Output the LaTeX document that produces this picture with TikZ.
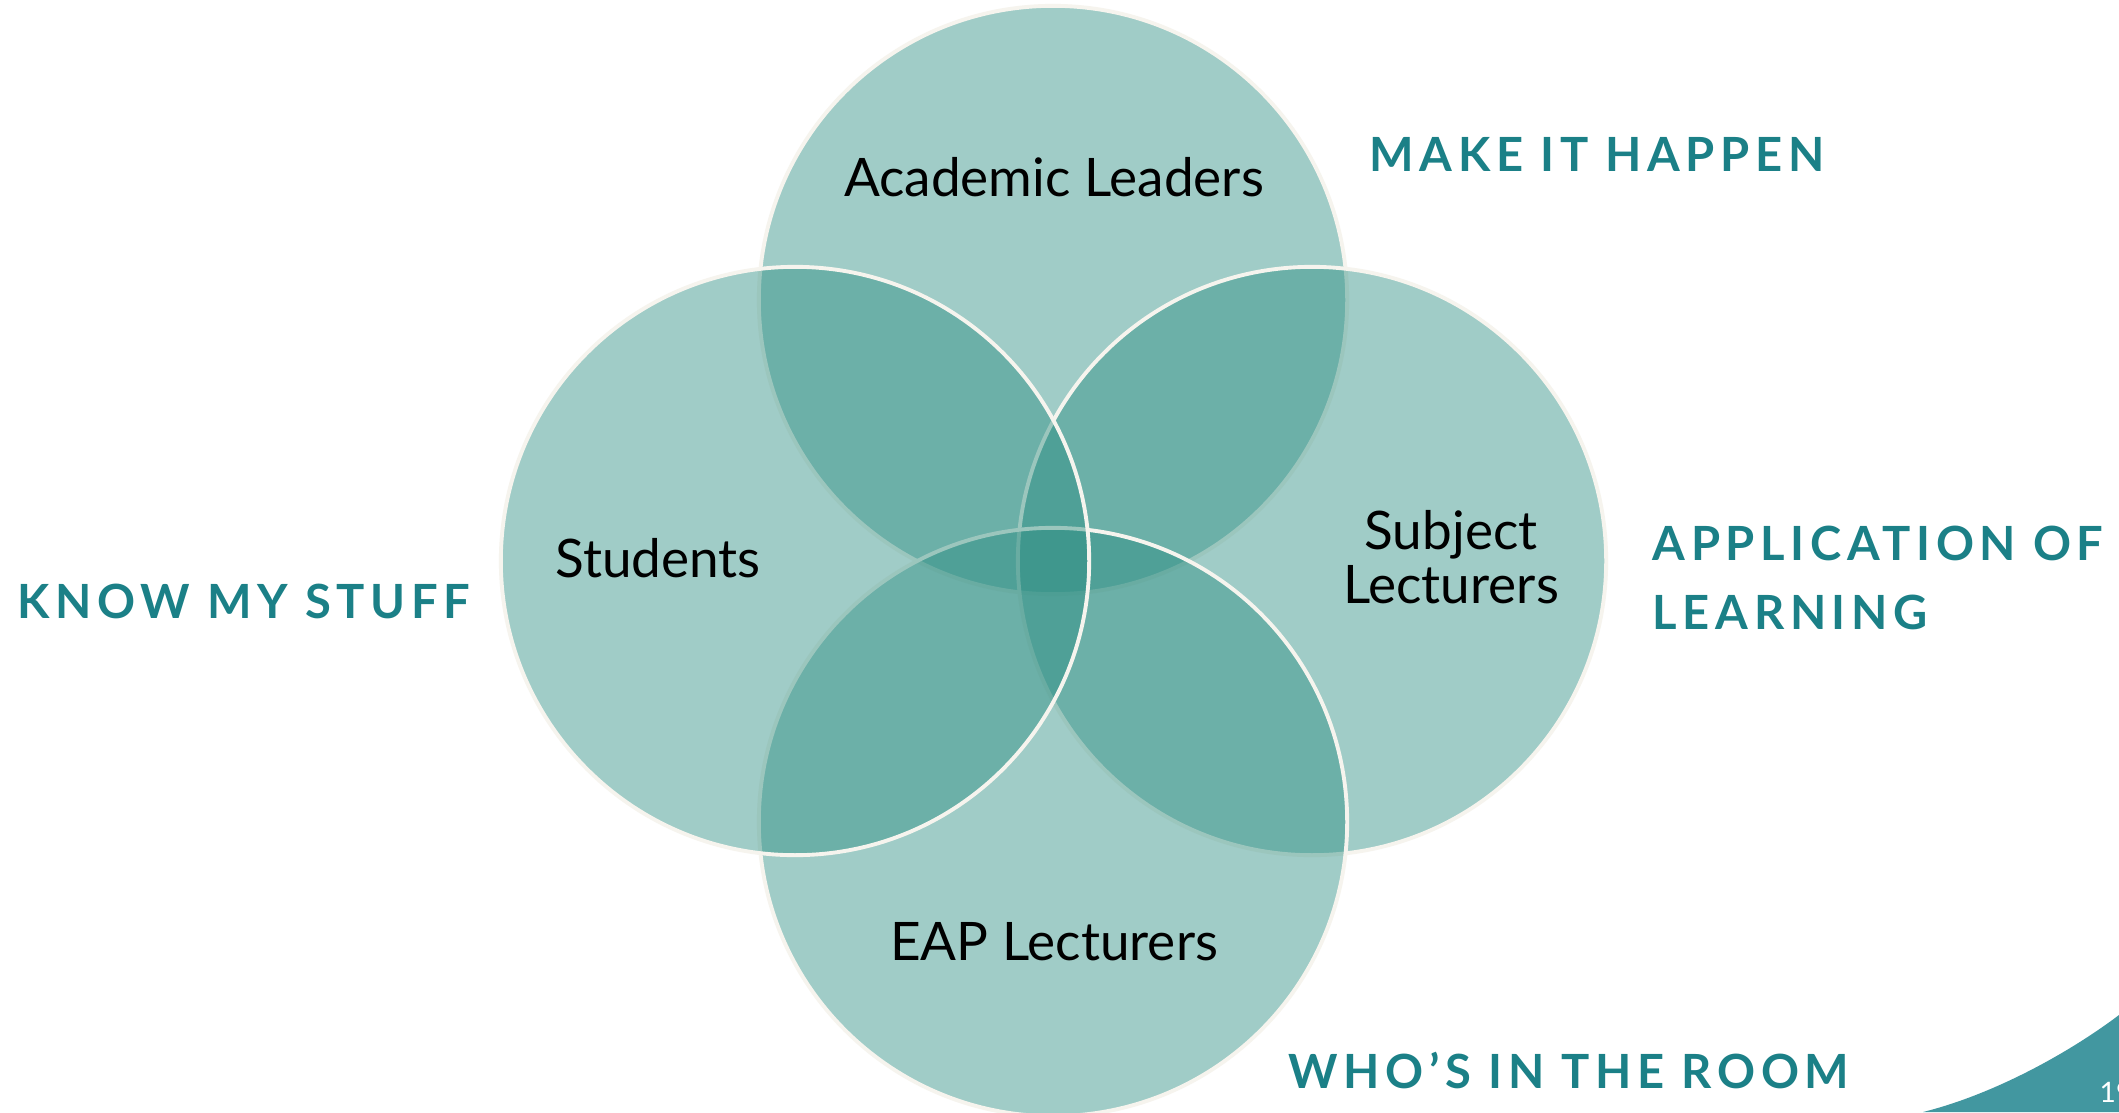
\documentclass[tikz,border=0pt]{standalone}
\usepackage{fontspec}
\setmainfont{Lato}
\newfontfamily\capsfont[LetterSpace=12]{Lato Bold}
\definecolor{circcol}{RGB}{45,142,131}
\definecolor{rimcol}{RGB}{246,244,238}
\definecolor{capcol}{RGB}{27,128,135}
\definecolor{cornercol}{RGB}{66,151,160}
\tikzset{
  venn/.style={circle, inner sep=0pt, outer sep=0pt, minimum size=5.88cm,
    fill=circcol, fill opacity=0.45, draw=rimcol, draw opacity=1, line width=1.1pt},
  lbl/.style={inner sep=0pt, anchor=base, text=black,
    font=\fontsize{15.1pt}{20pt}\selectfont},
  caplbl/.style={inner sep=0pt, anchor=base west, text=capcol,
    font=\capsfont\fontsize{13.4pt}{19.6pt}\selectfont},
}
\begin{document}
\begin{tikzpicture}[x=0.01cm,y=-0.01cm]
\useasboundingbox (0,0) rectangle (2119,1112);
\fill[white] (0,0) rectangle (2119,1112);
% circles: drawing order top, right, bottom, left
\node[venn] (top) at (1053,300) {};
\node[venn] (right) at (1312,561) {};
\node[venn] (bottom) at (1053,822) {};
\node[venn] (left) at (795,561) {};
% circle labels
\node[lbl] (tacad) at (1054,196) {Academic Leaders};
\node[lbl] (tstud) at (658,577) {Students};
\node[lbl] (tsubj) at (1451,549) {Subject};
\node[lbl] (tlect) at (1451,603) {Lecturers};
\node[lbl] (teap) at (1054,960) {EAP Lecturers};
% outer labels
\node[caplbl] (make) at (1369,171) {MAKE IT HAPPEN};
\node[caplbl] (know) at (17,618) {KNOW MY STUFF};
\node[caplbl] (appl) at (1652,560) {APPLICATION OF};
\node[caplbl] (learn) at (1652,629) {LEARNING};
\node[caplbl] (who) at (1288,1088) {WHO’S IN THE ROOM};
% corner decoration
\fill[cornercol] (1923,1112) .. controls (1995,1094) and (2070,1052) .. (2119,1015) -- (2119,1112) -- cycle;
\node[inner sep=0pt, anchor=base west, text=white, font=\fontsize{8pt}{10pt}\selectfont] (pnum) at (2099,1102) {19};
\end{tikzpicture}
\end{document}
